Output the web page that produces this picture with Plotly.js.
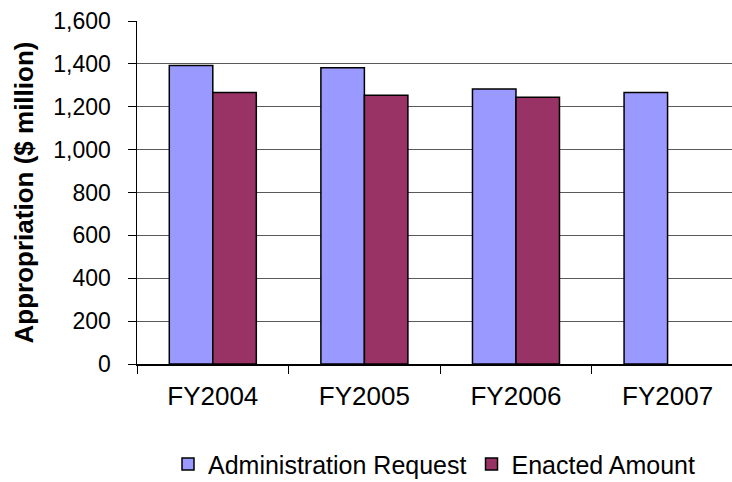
<!DOCTYPE html>
<html>
<head>
<meta charset="utf-8">
<script src="https://cdn.plot.ly/plotly-3.0.1.min.js"></script>
<style>html,body{margin:0;padding:0;background:#fff;}#chart{width:732px;height:482px;}</style>
</head>
<body>
<div id="chart"></div>
<script>
var categories = ['FY2004', 'FY2005', 'FY2006', 'FY2007'];
var adminRequest = [1392, 1382, 1283, 1267];
var enactedAmount = [1266, 1254, 1244, null];
var yTickVals = [0, 200, 400, 600, 800, 1000, 1200, 1400, 1600];

var FONT = 'Arial, "Liberation Sans", sans-serif';

var traces = [
  {
    type: 'bar', name: 'Administration Request', x: categories, y: adminRequest,
    marker: {color: '#9999FF', line: {color: '#000000', width: 1.5}}
  },
  {
    type: 'bar', name: 'Enacted Amount', x: categories, y: enactedAmount,
    marker: {color: '#993366', line: {color: '#000000', width: 1.5}}
  }
];

var layout = {
  width: 732, height: 482,
  margin: {l: 137, r: 0, t: 21, b: 118, pad: 0, autoexpand: false},
  paper_bgcolor: '#ffffff', plot_bgcolor: '#ffffff',
  font: {family: FONT, color: '#000000'},
  barmode: 'group', bargap: 0.426, bargroupgap: 0,
  showlegend: true,
  legend: {
    orientation: 'h', x: 0.5, xanchor: 'center', y: -0.292, yanchor: 'middle',
    font: {family: FONT, size: 25, color: '#000000'},
    itemwidth: 30, tracegroupgap: 0
  },
  xaxis: {
    type: 'category', range: [-0.5, 3.425], automargin: false,
    showline: true, linecolor: '#000000', linewidth: 1.5,
    ticks: 'outside', tickson: 'boundaries', ticklen: 8, tickcolor: '#000000', tickwidth: 1,
    showgrid: false, zeroline: false,
    tickfont: {family: FONT, size: 26, color: '#000000'},
    ticklabelstandoff: 8
  },
  yaxis: {
    range: [0, 1600], tickvals: yTickVals, tickformat: ',d', automargin: false,
    showline: true, linecolor: '#000000', linewidth: 1.5,
    ticks: 'outside', ticklen: 8, tickcolor: '#000000', tickwidth: 1,
    showgrid: true, gridcolor: '#5a5a5a', gridwidth: 1, zeroline: false,
    tickfont: {family: FONT, size: 23, color: '#000000'},
    ticklabelstandoff: 12,
    title: {text: 'Appropriation ($ million)', font: {family: FONT, size: 26, color: '#000000', weight: 'bold'}, standoff: 12}
  }
};

Plotly.newPlot('chart', traces, layout, {staticPlot: true, displayModeBar: false});
</script>
</body>
</html>
